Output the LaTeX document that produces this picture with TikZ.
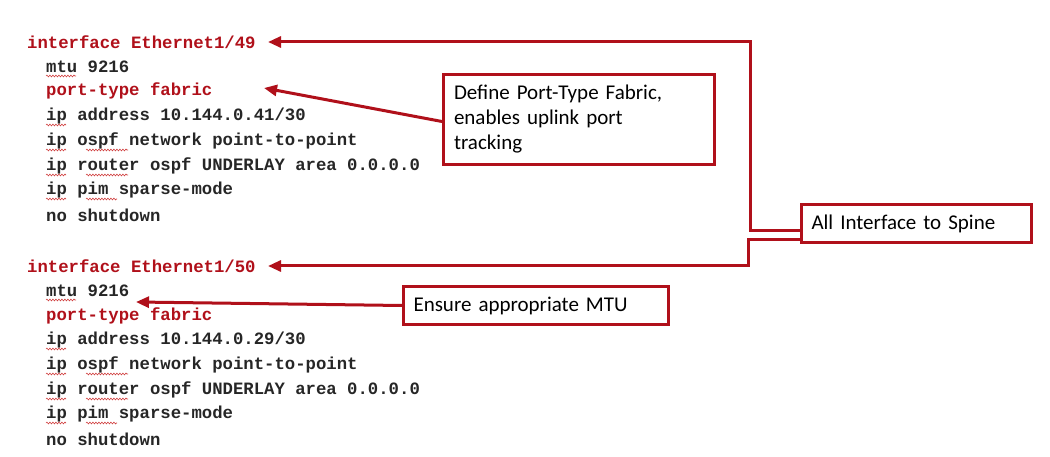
\documentclass[tikz,border=0pt]{standalone}
\usepackage{fontspec}
\setmainfont{Carlito}
\newfontfamily\codefont{Liberation Mono}
\usetikzlibrary{arrows.meta,decorations.pathmorphing}
\definecolor{cred}{HTML}{B0101A}
\definecolor{sq}{HTML}{D04040}
\begin{document}
\begin{tikzpicture}[x=1pt,y=-1pt,
  code/.style={anchor=west,inner sep=0pt,font=\codefont\bfseries\fontsize{17.3}{17}\selectfont,text=black!85},
  rcode/.style={code,text=cred},
  callout/.style={draw=cred,line width=3pt,anchor=north west,align=left,font=\fontsize{21}{25}\selectfont,inner xsep=8pt},
  conn/.style={draw=cred,line width=3pt,-{Triangle[length=13pt,width=11pt]}},
  squig/.style={draw=sq,line width=0.6pt,decorate,decoration={snake,amplitude=0.9pt,segment length=3pt}}]
\useasboundingbox (0,0) rectangle (1050,457);
% block 1
\node[rcode] (i49) at (27,42) {interface Ethernet1/49};
\node[code] (a1) at (46,67) {mtu 9216};
\node[rcode] (a2) at (46,91) {port-type fabric};
\node[code] (a3) at (46,116) {ip address 10.144.0.41/30};
\node[code] (a4) at (46,141) {ip ospf network point-to-point};
\node[code] (a5) at (46,166) {ip router ospf UNDERLAY area 0.0.0.0};
\node[code] (a6) at (46,190) {ip pim sparse-mode};
\node[code] (a7) at (46,215) {no shutdown};
% block 2
\node[rcode] (i50) at (27,266) {interface Ethernet1/50};
\node[code] (b1) at (46,291) {mtu 9216};
\node[rcode] (b2) at (46,316) {port-type fabric};
\node[code] (b3) at (46,340) {ip address 10.144.0.29/30};
\node[code] (b4) at (46,365) {ip ospf network point-to-point};
\node[code] (b5) at (46,390) {ip router ospf UNDERLAY area 0.0.0.0};
\node[code] (b6) at (46,414) {ip pim sparse-mode};
\node[code] (b7) at (46,439) {no shutdown};
% squiggles
\foreach \y in {76,300}{\draw[squig] (46,\y) -- (76,\y);}
\foreach \y in {125,150,175,199,349,374,399,423}{\draw[squig] (46,\y) -- (66,\y);}
\foreach \y in {150,175,374,399}{\draw[squig] (86,\y) -- (128,\y);}
\foreach \y in {199,423}{\draw[squig] (86,\y) -- (117,\y);}
% callouts
\node[callout,minimum width=271pt,minimum height=90pt,text width=250pt] (def) at (442,73) {Define Port-Type Fabric,\\enables uplink port\\tracking};
\node[callout,minimum width=230pt,minimum height=38pt,text width=210pt] (spine) at (800,203) {All Interface to Spine};
\node[callout,minimum width=265pt,minimum height=38pt,text width=245pt] (mtu) at (402,285) {Ensure appropriate MTU};
% connectors
\coordinate (t49) at (268,42);
\coordinate (t50) at (268,266);
\coordinate (tpf) at (264,88);
\coordinate (tmtu) at (136,302);
\draw[conn] ([yshift=-7pt]spine.west) -| (750,42) -- (t49);
\draw[conn] ([yshift=-16pt]spine.west) -| (748,266) -- (t50);
\draw[conn] ([yshift=-2pt]def.west) -- (tpf);
\draw[conn] (mtu.west) -- (tmtu);
\end{tikzpicture}
\end{document}
